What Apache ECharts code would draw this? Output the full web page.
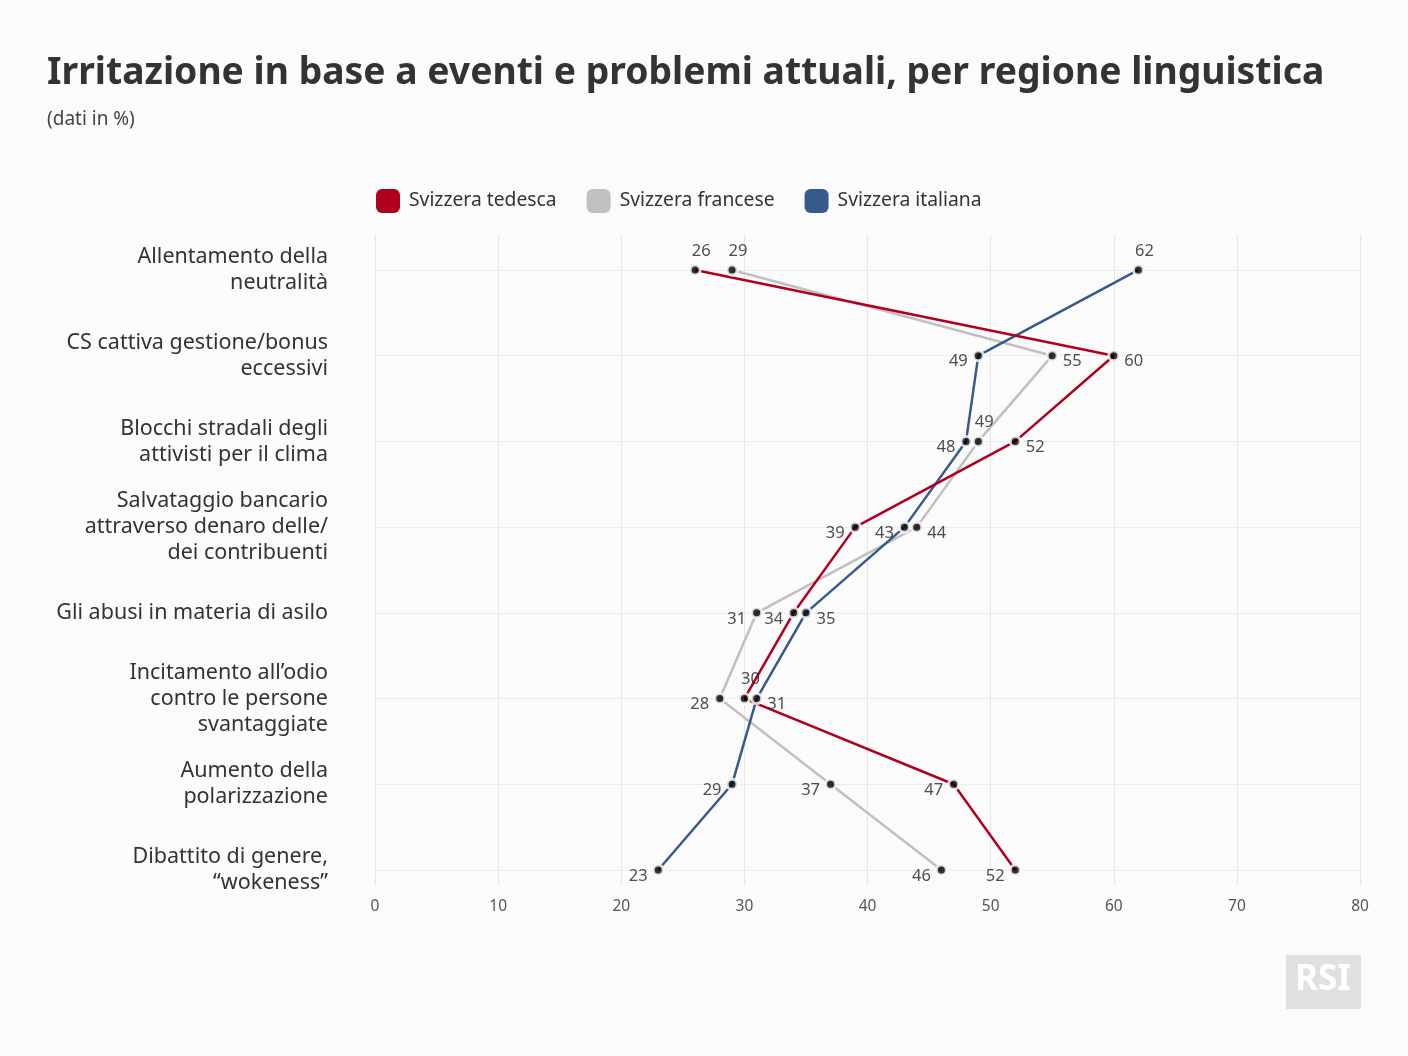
<!DOCTYPE html>
<html><head><meta charset="utf-8">
<script src="https://cdn.jsdelivr.net/npm/echarts@6/dist/echarts.min.js"></script>
<style>html,body{margin:0;padding:0;background:#fbfbfb}#c{width:1408px;height:1056px}</style>
</head><body><div id="c"></div>
<script>
const categories = [
  'Allentamento della\nneutralità',
  'CS cattiva gestione/bonus\neccessivi',
  'Blocchi stradali degli\nattivisti per il clima',
  'Salvataggio bancario\nattraverso denaro delle/\ndei contribuenti',
  'Gli abusi in materia di asilo',
  'Incitamento all\u2019odio\ncontro le persone\nsvantaggiate',
  'Aumento della\npolarizzazione',
  'Dibattito di genere,\n\u201cwokeness\u201d'
];
const seriesNames = ['Svizzera tedesca', 'Svizzera francese', 'Svizzera italiana'];
const tedesca  = [26, 60, 52, 39, 34, 30, 47, 52];
const francese = [29, 55, 49, 44, 31, 28, 37, 46];
const italiana = [62, 49, 48, 43, 35, 31, 29, 23];
const xTicks = [0, 10, 20, 30, 40, 50, 60, 70, 80];

// label placement (style only)
const posT = ['top', 'right', 'right', 'left', 'left', 'top', 'left', 'left'];
const posF = ['top', 'right', 'top', 'right', 'left', 'left', 'left', 'left'];
const posI = ['top', 'left', 'left', 'left', 'right', 'right', 'left', 'left'];

const colors = ['#b00020', '#c0c0c0', '#375a8c'];
const FONT = 'Noto Sans';
const values = [tedesca, francese, italiana];
const positions = [posT, posF, posI];

const lineSeries = values.map((vals, s) => ({
  name: seriesNames[s],
  type: 'line',
  data: vals.map((v, i) => [v, i]),
  showSymbol: false,
  symbol: 'none',
  lineStyle: { width: 2.5, color: colors[s] },
  itemStyle: { color: colors[s] },
  z: [4, 2, 3][s],
  silent: true,
  animation: false
}));

const dotSeries = values.map((vals, s) => ({
  name: 'dots' + s,
  type: 'scatter',
  data: vals.map((v, i) => {
    const p = positions[s][i];
    return {
      value: [v, i],
      label: {
        position: p,
        offset: p === 'top' ? [6, 0] : [0, 6]
      }
    };
  }),
  symbol: 'circle',
  symbolSize: 10,
  itemStyle: { color: '#000', borderColor: '#fbfbfb', borderWidth: 3 },
  label: { show: true, formatter: (d) => d.value[0], fontSize: 16.5, color: '#222', fontFamily: FONT, distance: 4 },
  z: 10,
  animation: false
}));

const chart = echarts.init(document.getElementById('c'), null, { renderer: 'canvas' });
chart.setOption({
  backgroundColor: '#fbfbfb',
  animation: false,
  title: {
    text: 'Irritazione in base a eventi e problemi attuali, per regione linguistica',
    subtext: '(dati in %)',
    left: 42, top: 50,
    itemGap: 18,
    textStyle: { fontFamily: FONT, fontWeight: 'bold', fontSize: 37.3, color: '#333' },
    subtextStyle: { fontFamily: FONT, fontSize: 19, color: '#444' }
  },
  legend: {
    data: seriesNames.map(n => ({ name: n, icon: 'roundRect' })),
    left: 371, top: 184,
    itemWidth: 24, itemHeight: 24, itemGap: 30,
    textStyle: { fontFamily: FONT, fontSize: 19.3, color: '#333', padding: [0, 0, 0, 4] }
  },
  grid: { left: 375, right: 48, top: 235, bottom: 171, containLabel: false },
  xAxis: {
    type: 'value', min: 0, max: 80, interval: 10,
    axisLine: { show: false }, axisTick: { show: false },
    axisLabel: { fontFamily: FONT, fontSize: 15.5, color: '#555', margin: 14,
      formatter: (v) => xTicks.includes(v) ? String(v) : '' },
    splitLine: { show: true, lineStyle: { color: '#e6e6e6', width: 1 } }
  },
  yAxis: {
    type: 'value', inverse: true, min: -0.408, max: 7.175,
    axisLine: { show: false },
    axisTick: { show: false, customValues: [0, 1, 2, 3, 4, 5, 6, 7] },
    axisLabel: {
      customValues: [0, 1, 2, 3, 4, 5, 6, 7],
      formatter: (v) => categories[Math.round(v)] || '',
      fontFamily: FONT, fontSize: 21.5, color: '#333', lineHeight: 26, margin: 47, align: 'right'
    },
    splitLine: { show: true, lineStyle: { color: '#ececec', width: 1 } }
  },
  graphic: [
    { type: 'rect', left: 1286, top: 955, shape: { width: 75, height: 54 }, style: { fill: '#e0e0e0' } },
    { type: 'text', left: 1295, top: 963, style: { text: 'RSI', fill: '#fff', font: 'bold 35px ' + FONT } }
  ],
  series: [...lineSeries, ...dotSeries]
});
</script>
</body></html>
